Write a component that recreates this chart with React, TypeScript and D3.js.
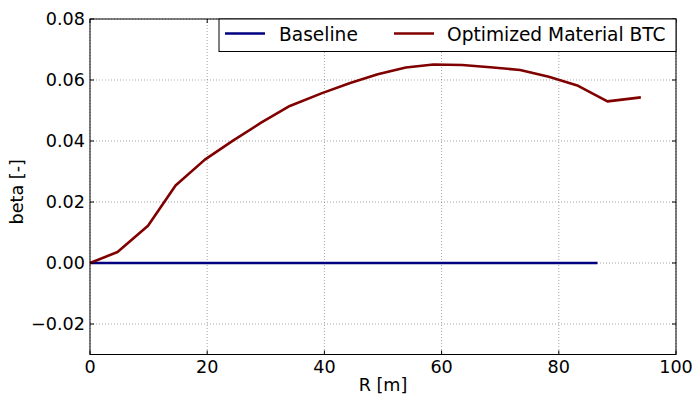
import React from "react";
import * as d3 from "d3";

const xTicks = [0, 20, 40, 60, 80, 100];
const yTicks = [-0.02, 0.0, 0.02, 0.04, 0.06, 0.08];
const yTickLabels = ["\u22120.02", "0.00", "0.02", "0.04", "0.06", "0.08"];

const rOptimized = [0, 4.7, 9.9, 14.6, 19.6, 24.4, 29.2, 34.1, 39.6, 44.4, 49.1, 53.9, 58.6, 63.5, 68.3, 73.4, 78.3, 83.3, 88.3, 94.0];
const betaOptimized = [0, 0.0036, 0.0122, 0.0254, 0.0339, 0.0401, 0.046, 0.0515, 0.0557, 0.059, 0.0619, 0.0641, 0.0651, 0.0649, 0.0642, 0.0633, 0.0611, 0.0581, 0.053, 0.0543];

const rBaseline = [0, 20, 40, 60, 80, 86.6];
const betaBaseline = [0, 0, 0, 0, 0, 0];

const seriesNames = ["Baseline", "Optimized Material BTC"];
const seriesColors = ["#000080", "#800000"];

export default function App() {
  const W = 695, H = 398;
  const L = 90, R = 676, T = 19, B = 354.5;
  const x = d3.scaleLinear().domain([0, 100]).range([L, R]);
  const y = d3.scaleLinear().domain([-0.03, 0.08]).range([B, T]);
  const line = d3.line<[number, number]>().x(d => x(d[0])).y(d => y(d[1]));
  const optPts = rOptimized.map((r, i) => [r, betaOptimized[i]] as [number, number]);
  const basePts = rBaseline.map((r, i) => [r, betaBaseline[i]] as [number, number]);
  const font = "DejaVu Sans, sans-serif";
  const fs = 17.6;
  const lfs = 18.6;
  return (
    <svg width={W} height={H} style={{ position: "absolute", left: 0, top: 0, background: "#fff" }}>
      <rect x={0} y={0} width={W} height={H} fill="#fff" />
      {xTicks.map(t => (
        <line key={"gx" + t} x1={x(t)} x2={x(t)} y1={T} y2={B} stroke="#000" strokeOpacity={0.45} strokeWidth={0.8} strokeDasharray="1,2" />
      ))}
      {yTicks.map(t => (
        <line key={"gy" + t} x1={L} x2={R} y1={y(t)} y2={y(t)} stroke="#000" strokeOpacity={0.45} strokeWidth={0.8} strokeDasharray="1,2" />
      ))}
      <path d={line(basePts) || ""} fill="none" stroke={seriesColors[0]} strokeWidth={2.6} />
      <path d={line(optPts) || ""} fill="none" stroke={seriesColors[1]} strokeWidth={2.6} strokeLinejoin="round" />
      {xTicks.map(t => (
        <g key={"tx" + t}>
          <line x1={x(t)} x2={x(t)} y1={B} y2={B - 4} stroke="#000" />
          <line x1={x(t)} x2={x(t)} y1={T} y2={T + 4} stroke="#000" />
          <text x={x(t)} y={372.5} textAnchor="middle" fontFamily={font} fontSize={fs}>{t}</text>
        </g>
      ))}
      {yTicks.map((t, i) => (
        <g key={"ty" + t}>
          <line x1={L} x2={L + 4} y1={y(t)} y2={y(t)} stroke="#000" />
          <line x1={R} x2={R - 4} y1={y(t)} y2={y(t)} stroke="#000" />
          <text x={L - 5} y={y(t) + 6.3} textAnchor="end" fontFamily={font} fontSize={fs}>{yTickLabels[i]}</text>
        </g>
      ))}
      <rect x={L} y={T} width={R - L} height={B - T} fill="none" stroke="#000" strokeWidth={1} />
      <text x={(L + R) / 2} y={391} textAnchor="middle" fontFamily={font} fontSize={fs}>R [m]</text>
      <text transform={`translate(23,${(T + B) / 2 + 5}) rotate(-90)`} textAnchor="middle" fontFamily={font} fontSize={fs}>beta [-]</text>
      <rect x={219} y={19} width={R - 219} height={32.5} fill="#fff" stroke="#000" strokeWidth={1} />
      <line x1={225} x2={265} y1={33.5} y2={33.5} stroke={seriesColors[0]} strokeWidth={2.6} />
      <text x={279} y={40.5} fontFamily={font} fontSize={lfs}>{seriesNames[0]}</text>
      <line x1={394} x2={434} y1={33.5} y2={33.5} stroke={seriesColors[1]} strokeWidth={2.6} />
      <text x={447} y={40.5} fontFamily={font} fontSize={lfs}>{seriesNames[1]}</text>
    </svg>
  );
}
